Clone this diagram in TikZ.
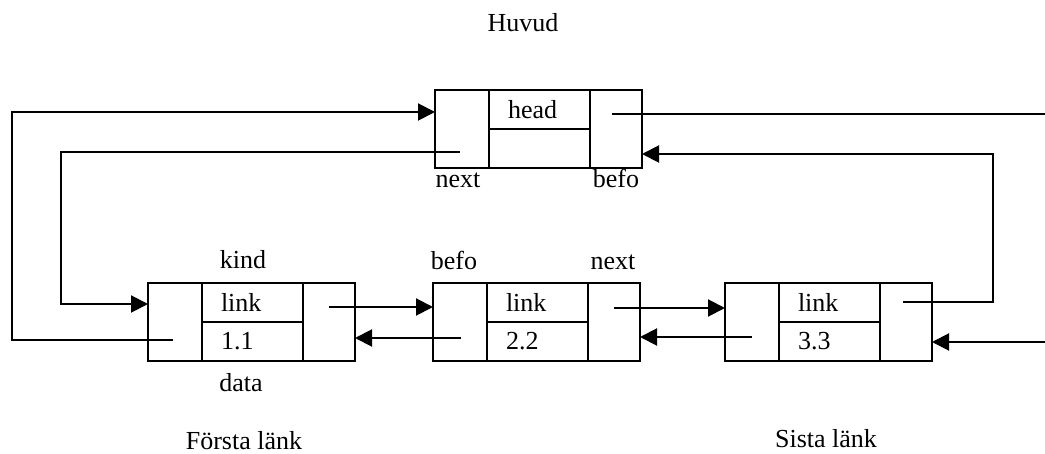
\documentclass[tikz,border=0pt]{standalone}
\usepackage{fontspec}
\setmainfont{Liberation Serif}
\usetikzlibrary{shapes,arrows.meta,positioning}

\tikzset{
	cell/.style={draw, line width=1.3pt, outer sep=0pt, inner sep=0pt, minimum height=39pt},
	side/.style={cell, minimum width=27pt},
	rside/.style={cell, minimum width=26pt},
	half/.style={draw, line width=1.3pt, outer sep=0pt, minimum height=19.5pt, text width=31.5pt, inner xsep=9.5pt, inner ysep=0pt, align=left},
	wire/.style={line width=1pt},
	ptr/.style={wire, -{Triangle[length=8.5pt,width=8.5pt]}},
}

\begin{document}
\begin{tikzpicture}[font=\fontsize{13}{15}\selectfont]
	\useasboundingbox (0,0) rectangle (522.5pt,-227pt);

	\node[anchor=base] (huvud) at (261.5pt,-16pt) {Huvud};
	\node[side, anchor=north west] (hl) at (217.5pt,-45pt) {};
	\node[half, anchor=north west] (hhead) at (hl.north east) {head};
	\node[half, below=0pt of hhead] (hlow) {};
	\node[rside, anchor=north west] (hr) at (hhead.north east) {};
	\node[anchor=base] (hnext) at (229pt,-94pt) {next};
	\node[anchor=base] (hbefo) at (308pt,-94pt) {befo};

	\node[side, anchor=north west] (k1l) at (74pt,-141.5pt) {};
	\node[half, anchor=north west] (k1link) at (k1l.north east) {link};
	\node[half, below=0pt of k1link] (k1data) {1.1};
	\node[rside, anchor=north west] (k1r) at (k1link.north east) {};
	\node[anchor=base] (kind) at (121.5pt,-134.5pt) {kind};
	\node[anchor=base] (data) at (120.5pt,-196pt) {data};

	\node[side, right=39pt of k1r] (k2l) {};
	\node[half, anchor=north west] (k2link) at (k2l.north east) {link};
	\node[half, below=0pt of k2link] (k2data) {2.2};
	\node[rside, anchor=north west] (k2r) at (k2link.north east) {};
	\node[anchor=base] (k2befo) at (227pt,-135pt) {befo};
	\node[anchor=base] (k2next) at (306.5pt,-135pt) {next};

	\node[side, right=42.5pt of k2r] (k3l) {};
	\node[half, anchor=north west] (k3link) at (k3l.north east) {link};
	\node[half, below=0pt of k3link] (k3data) {3.3};
	\node[rside, anchor=north west] (k3r) at (k3link.north east) {};

	\node[anchor=base] (forsta) at (122pt,-225pt) {Första länk};
	\node[anchor=base] (sista) at (413pt,-223.5pt) {Sista länk};

	\coordinate (a0) at ([shift={(-1pt,-9pt)}]k1l.center);
	\coordinate (wa) at (6pt,-56pt);
	\draw[ptr] (a0) -| (wa) -- (wa -| hl.west);
	\coordinate (b0) at ([shift={(-1pt,-11.5pt)}]hl.center);
	\coordinate (wb) at (30.5pt,-152pt);
	\draw[ptr] (b0) -| (wb) -- (wb -| k1l.west);
	\coordinate (c0) at ([shift={(-2pt,7.5pt)}]hr.center);
	\coordinate (wc) at (522.5pt,-57pt);
	\draw[wire] (c0) -- (wc);
	\coordinate (d0) at ([shift={(-1.5pt,10pt)}]k3r.center);
	\coordinate (wd) at (496.5pt,-77pt);
	\draw[ptr] (d0) -| (wd) -- (wd -| hr.east);
	\coordinate (we) at (522.5pt,-171pt);
	\draw[ptr] (we) -- (we -| k3r.east);

	\coordinate (f0) at ([yshift=7.5pt]k1r.center);
	\draw[ptr] (f0) -- (f0 -| k2l.west);
	\coordinate (g0) at ([shift={(0.5pt,-8pt)}]k2l.center);
	\draw[ptr] (g0) -- (g0 -| k1r.east);
	\coordinate (h0) at ([yshift=7pt]k2r.center);
	\draw[ptr] (h0) -- (h0 -| k3l.west);
	\coordinate (i0) at ([yshift=-7.5pt]k3l.center);
	\draw[ptr] (i0) -- (i0 -| k2r.east);
\end{tikzpicture}
\end{document}
